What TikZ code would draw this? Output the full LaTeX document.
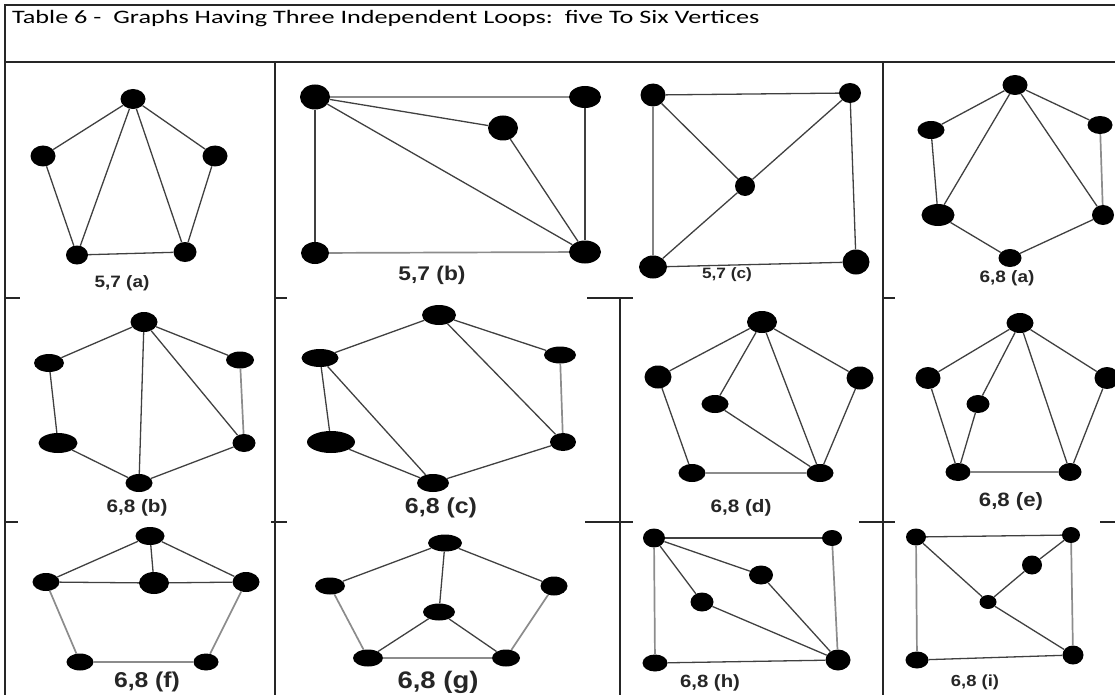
\documentclass[tikz,border=0pt]{standalone}
\usepackage{fontspec}
\setmainfont{Carlito}
\newfontfamily\titlefont{Carlito}[FakeStretch=1.38]
\newfontfamily\labfont{Liberation Sans}[FakeStretch=1.15]
\usetikzlibrary{shapes.geometric}

\newcommand{\gsize}[1]{\fontsize{#1}{#1}\selectfont}

\tikzset{
  vtx/.style={ellipse, fill=black, inner sep=0pt, minimum width=25pt, minimum height=19pt},
  edge/.style={draw=black!75, line width=1.3pt},
  pale/.style={draw=black!45, line width=1.7pt},
  rule/.style={draw=black!85, line width=1.6pt},
  glab/.style={font=\labfont\bfseries, text=black!85, inner sep=0pt},
}

\begin{document}
\begin{tikzpicture}[x=1pt, y=-1pt]
    \useasboundingbox (0,0) rectangle (1115,695);

    % Рамка таблиці
    \draw[rule] (1115,5) -- (5,5) -- (5,695);
    \draw[rule] (5,62) -- (1115,62);
    \draw[rule] (275,62) -- (275,695);
    \draw[rule] (883,62) -- (883,695);
    \draw[rule] (620,297) -- (620,695);

    % Короткі риски між рядками
    \draw[rule] (5,298) -- (20,298);
    \draw[rule] (275,298) -- (287,298);
    \draw[rule] (587,298) -- (633,298);
    \draw[rule] (883,298) -- (895,298);
    \draw[rule] (5,522) -- (18,522);
    \draw[rule] (271,522) -- (287,522);
    \draw[rule] (585,522) -- (633,522);
    \draw[rule] (859,522) -- (895,522);
    \draw[rule] (1100,522) -- (1115,522);

    % Заголовок
    \node[anchor=west, inner sep=0pt] (title) at (12,19)
        {\titlefont\fontsize{19}{19}\selectfont Table 6 -\ \ Graphs Having Three Independent Loops:\ \ five To Six Vertices};

    % 5,7 (a)
    \node[vtx, minimum height=20pt] (A1) at (133,99) {};
    \node[vtx, minimum height=21pt] (A2) at (43,156) {};
    \node[vtx, minimum height=21pt] (A3) at (215,156) {};
    \node[vtx, minimum width=22pt] (A4) at (77,255) {};
    \node[vtx, minimum width=23pt, minimum height=20pt] (A5) at (185,252) {};
    \draw[edge] (A2) -- (A1) -- (A3) -- (A5) -- (A4) -- (A2);
    \draw[edge] (A4) -- (A1) -- (A5);
    \node[glab] (la) at (122,283) {\gsize{16.5}5,7 (a)};

    % 5,7 (b)
    \node[vtx, minimum width=30pt, minimum height=25pt] (B1) at (315,97) {};
    \node[vtx, minimum width=32pt, minimum height=22pt] (B2) at (585,97) {};
    \node[vtx, minimum width=30pt, minimum height=25pt] (B3) at (503,128) {};
    \node[vtx, minimum width=28pt, minimum height=22pt] (B4) at (315,253) {};
    \node[vtx, minimum width=32pt, minimum height=23pt] (B5) at (585,252) {};
    \draw[pale] (B1) -- (B2);
    \draw[pale] (B4) -- (B5);
    \draw[edge] (B2) -- (B5);
    \draw[edge] (B1) -- (B4);
    \draw[edge] (B1) -- (B3) -- (B5) -- (B1);
    \node[glab] (lb) at (432,275) {\gsize{19.8}5,7 (b)};

    % 5,7 (c)
    \node[vtx, minimum width=25pt, minimum height=23pt] (C1) at (653,95) {};
    \node[vtx, minimum width=22pt, minimum height=20pt] (C2) at (850,93) {};
    \node[vtx, minimum width=20pt, minimum height=20pt] (C3) at (745,186) {};
    \node[vtx, minimum width=28pt, minimum height=23pt] (C4) at (653,267) {};
    \node[vtx, minimum width=27pt, minimum height=25pt] (C5) at (856,262) {};
    \draw[edge] (C4) -- (C1) -- (C2) -- (C5) -- (C4);
    \draw[edge] (C1) -- (C3) -- (C2);
    \draw[edge] (C3) -- (C4);
    \node[glab] (lc) at (727,275) {\gsize{15}5,7 (c)};

    % 6,8 (a)
    \node[vtx, minimum height=20pt] (D1) at (1015,85) {};
    \node[vtx, minimum width=27pt, minimum height=18pt] (D2) at (931,130) {};
    \node[vtx, minimum height=18pt] (D3) at (1100,125) {};
    \node[vtx, minimum width=33pt, minimum height=22pt] (D4) at (938,215) {};
    \node[vtx, minimum width=22pt, minimum height=20pt] (D5) at (1103,215) {};
    \node[vtx, minimum width=23pt, minimum height=18pt] (D6) at (1010,258) {};
    \draw[edge] (D2) -- (D1) -- (D3);
    \draw[pale] (D3) -- (D5);
    \draw[edge] (D2) -- (D4) -- (D6) -- (D5);
    \draw[edge] (D4) -- (D1) -- (D5);
    \node[glab] (ld) at (1007,278) {\gsize{16.5}6,8 (a)};

    % 6,8 (b)
    \node[vtx, minimum width=27pt, minimum height=20pt] (E1) at (144,322) {};
    \node[vtx, minimum width=30pt, minimum height=18pt] (E2) at (49,363) {};
    \node[vtx, minimum width=28pt, minimum height=17pt] (E3) at (240,360) {};
    \node[vtx, minimum width=39pt, minimum height=20pt] (E4) at (58,443) {};
    \node[vtx, minimum width=23pt, minimum height=18pt] (E5) at (244,443) {};
    \node[vtx, minimum width=27pt, minimum height=18pt] (E6) at (139,483) {};
    \draw[edge] (E2) -- (E1) -- (E3);
    \draw[pale] (E3) -- (E5);
    \draw[edge] (E2) -- (E4) -- (E6) -- (E5);
    \draw[edge] (E1) -- (E6);
    \draw[edge] (E1) -- (E5);
    \node[glab] (le) at (137,508) {\gsize{18}6,8 (b)};

    % 6,8 (c)
    \node[vtx, minimum width=34pt, minimum height=20pt] (F1) at (439,315) {};
    \node[vtx, minimum width=37pt, minimum height=18pt] (F2) at (320,358) {};
    \node[vtx, minimum width=32pt, minimum height=17pt] (F3) at (560,355) {};
    \node[vtx, minimum width=48pt, minimum height=22pt] (F4) at (331,442) {};
    \node[vtx, minimum width=26pt, minimum height=18pt] (F5) at (563,442) {};
    \node[vtx, minimum width=32pt, minimum height=18pt] (F6) at (433,483) {};
    \draw[edge] (F2) -- (F1) -- (F3);
    \draw[pale] (F3) -- (F5);
    \draw[edge] (F2) -- (F4) -- (F6) -- (F5);
    \draw[edge] (F2) -- (F6);
    \draw[edge] (F1) -- (F5);
    \node[glab] (lf) at (441,508) {\gsize{21.7}6,8 (c)};

    % 6,8 (d)
    \node[vtx, minimum width=30pt, minimum height=22pt] (G1) at (762,322) {};
    \node[vtx, minimum width=27pt, minimum height=23pt] (G2) at (658,377) {};
    \node[vtx, minimum width=27pt, minimum height=23pt] (G3) at (860,378) {};
    \node[vtx, minimum width=27pt, minimum height=18pt] (G4) at (715,404) {};
    \node[vtx, minimum width=27pt, minimum height=18pt] (G5) at (692,473) {};
    \node[vtx, minimum width=27pt, minimum height=18pt] (G6) at (820,473) {};
    \draw[edge] (G2) -- (G1) -- (G3) -- (G6);
    \draw[edge] (G2) -- (G5);
    \draw[pale] (G5) -- (G6);
    \draw[edge] (G1) -- (G4) -- (G6) -- (G1);
    \node[glab] (lg) at (741,508) {\gsize{18}6,8 (d)};

    % 6,8 (e)
    \node[vtx, minimum width=27pt, minimum height=20pt] (H1) at (1020,323) {};
    \node[vtx, minimum height=22pt] (H2) at (928,378) {};
    \node[vtx, minimum height=22pt] (H3) at (1107,378) {};
    \node[vtx, minimum width=23pt, minimum height=18pt] (H4) at (978,404) {};
    \node[vtx, minimum height=18pt] (H5) at (958,472) {};
    \node[vtx, minimum width=23pt, minimum height=18pt] (H6) at (1070,472) {};
    \draw[edge] (H2) -- (H1) -- (H3) -- (H6) -- (H5) -- (H2);
    \draw[edge] (H1) -- (H4) -- (H5);
    \draw[edge] (H1) -- (H6);
    \node[glab] (lh) at (1011,502) {\gsize{19.3}6,8 (e)};

    % 6,8 (f)
    \node[vtx, minimum width=29pt, minimum height=18pt] (K1) at (150,536) {};
    \node[vtx, minimum width=27pt, minimum height=18pt] (K2) at (46,582) {};
    \node[vtx, minimum width=30pt, minimum height=22pt] (K3) at (154,583) {};
    \node[vtx, minimum width=27pt, minimum height=20pt] (K4) at (246,582) {};
    \node[vtx, minimum width=27pt, minimum height=17pt] (K5) at (80,662) {};
    \node[vtx, minimum width=25pt, minimum height=17pt] (K6) at (206,662) {};
    \draw[edge] (K2) -- (K1) -- (K4);
    \draw[edge] (K1) -- (K3);
    \draw[edge] (K2) -- (K3) -- (K4);
    \draw[pale] (K2) -- (K5) -- (K6) -- (K4);
    \node[glab] (lk) at (147,682) {\gsize{21.5}6,8 (f)};

    % 6,8 (g)
    \node[vtx, minimum width=34pt, minimum height=17pt] (M1) at (445,543) {};
    \node[vtx, minimum width=30pt, minimum height=17pt] (M2) at (330,586) {};
    \node[vtx, minimum width=27pt, minimum height=19pt] (M3) at (554,586) {};
    \node[vtx, minimum width=32pt, minimum height=17pt] (M4) at (439,612) {};
    \node[vtx, minimum width=30pt, minimum height=17pt] (M5) at (368,658) {};
    \node[vtx, minimum width=28pt, minimum height=17pt] (M6) at (506,658) {};
    \draw[edge] (M2) -- (M1) -- (M3);
    \draw[pale] (M2) -- (M5) -- (M6) -- (M3);
    \draw[edge] (M1) -- (M4);
    \draw[edge] (M5) -- (M4) -- (M6);
    \node[glab] (lm) at (438,682) {\gsize{23.9}6,8 (g)};

    % 6,8 (h)
    \node[vtx, minimum width=22pt, minimum height=19pt] (N1) at (654,538) {};
    \node[vtx, minimum width=20pt, minimum height=16pt] (N2) at (832,538) {};
    \node[vtx, minimum width=24pt, minimum height=19pt] (N3) at (761,575) {};
    \node[vtx, minimum width=23pt, minimum height=19pt] (N4) at (702,602) {};
    \node[vtx, minimum width=25pt, minimum height=17pt] (N5) at (655,663) {};
    \node[vtx, minimum width=25pt, minimum height=21pt] (N6) at (838,660) {};
    \draw[edge] (N1) -- (N2);
    \draw[pale] (N1) -- (N5);
    \draw[pale] (N2) -- (N6);
    \draw[edge] (N5) -- (N6);
    \draw[edge] (N1) -- (N3) -- (N6);
    \draw[edge] (N1) -- (N4) -- (N6);
    \node[glab] (ln) at (710,683) {\gsize{17.7}6,8 (h)};

    % 6,8 (i)
    \node[vtx, minimum width=20pt, minimum height=17pt] (P1) at (916,537) {};
    \node[vtx, minimum width=18pt, minimum height=16pt] (P2) at (1071,535) {};
    \node[vtx, minimum width=20pt, minimum height=19pt] (P3) at (1032,565) {};
    \node[vtx, minimum width=17pt, minimum height=14pt] (P4) at (988,602) {};
    \node[vtx, minimum width=23pt, minimum height=17pt] (P5) at (917,660) {};
    \node[vtx, minimum width=21pt, minimum height=19pt] (P6) at (1073,655) {};
    \draw[edge] (P1) -- (P2);
    \draw[pale] (P1) -- (P5);
    \draw[pale] (P2) -- (P6);
    \draw[edge] (P5) -- (P6);
    \draw[edge] (P1) -- (P4) -- (P6);
    \draw[edge] (P4) -- (P3) -- (P2);
    \node[glab] (lp) at (975,682) {\gsize{16}6,8 (i)};
\end{tikzpicture}
\end{document}
